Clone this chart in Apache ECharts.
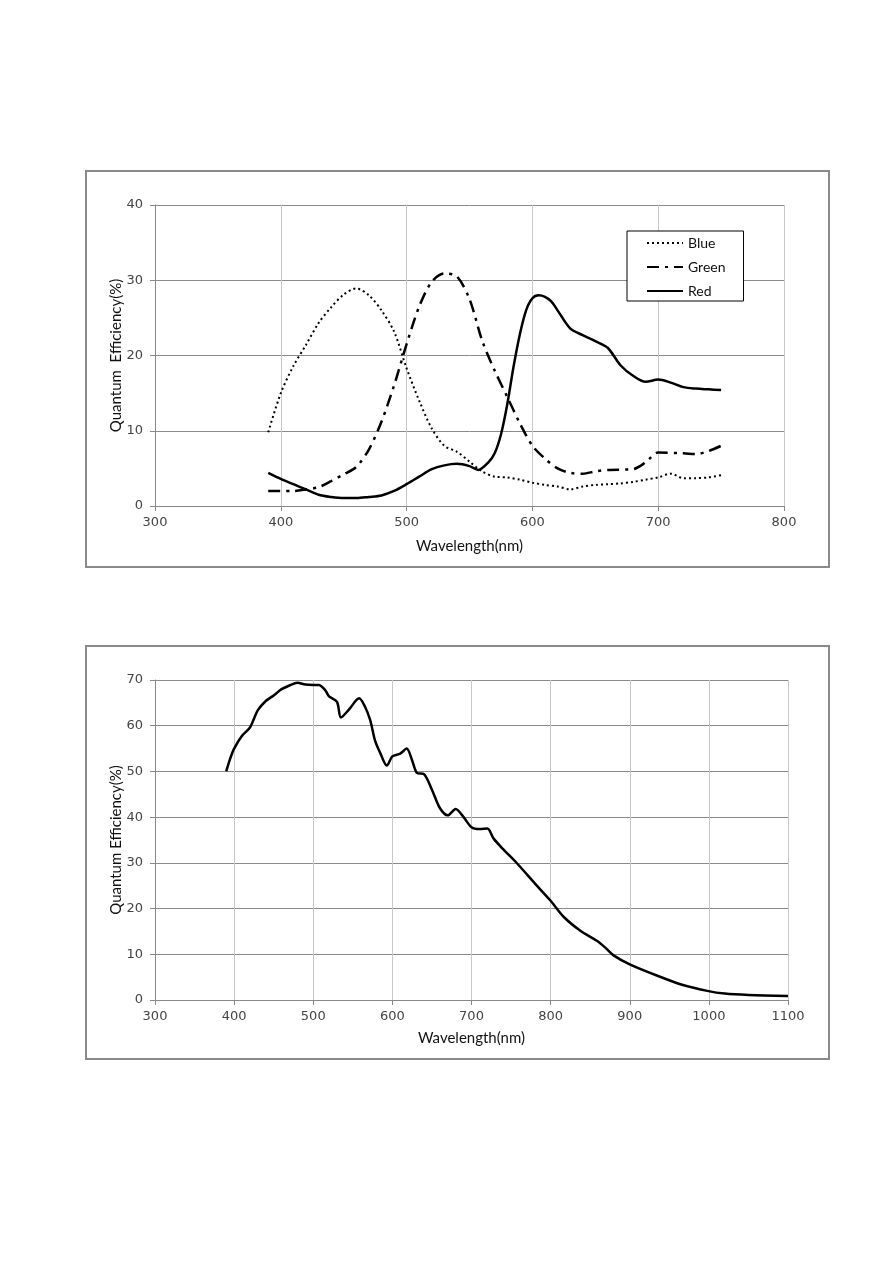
<!DOCTYPE html>
<html><head><meta charset="utf-8">
<script src="https://cdn.jsdelivr.net/npm/echarts@6/dist/echarts.min.js"></script>
<style>
html,body{margin:0;padding:0;background:#fff;width:893px;height:1263px;overflow:hidden}
.frame{position:absolute;border:2px solid #8a8a8a;box-sizing:border-box;background:#fff}
</style></head><body>
<div id="c1" class="frame" style="left:85px;top:170px;width:745px;height:398px"></div>
<div id="c2" class="frame" style="left:85px;top:645px;width:745px;height:415px"></div>
<script>
// ---- Chart 1 data ----
const blueWl = [390,400,410,420,430,440,450,460,470,480,490,500,510,520,530,540,550,560,570,580,590,600,610,620,630,640,650,660,670,680,690,700,710,720,730,740,750];
const blueQE = [9.8,15,18.6,21.4,24.3,26.4,28.1,28.9,28.0,26.0,23.2,18.3,14.0,10.3,8.0,7.2,5.9,4.6,3.9,3.8,3.5,3.1,2.8,2.6,2.2,2.6,2.8,2.9,3.0,3.2,3.5,3.8,4.3,3.7,3.7,3.8,4.1];
const greenWl = [390,410,420,430,440,450,460,470,480,490,500,510,520,530,540,550,560,570,580,590,600,610,620,630,640,650,660,680,690,700,720,730,740,750];
const greenQE = [2.0,2.0,2.2,2.5,3.3,4.2,5.2,7.5,11.2,16.0,21.5,26.5,29.8,30.9,30.5,27.5,22.0,18.0,14.5,11.0,8.0,6.3,5.0,4.4,4.3,4.6,4.8,4.9,5.8,7.1,7.0,6.9,7.3,8.0];
const redWl = [390,400,410,420,430,440,450,460,470,480,490,500,510,520,530,540,550,557,565,570,575,580,585,590,595,600,605,610,615,620,630,640,650,660,670,680,690,700,710,720,730,740,750];
const redQE = [4.4,3.6,2.9,2.2,1.5,1.2,1.05,1.05,1.2,1.4,2.0,2.9,3.9,4.9,5.4,5.6,5.3,4.8,5.8,7.0,9.5,13.5,18.5,22.8,26.0,27.6,28.0,27.8,27.2,26.0,23.6,22.7,21.9,21.0,18.7,17.3,16.5,16.8,16.4,15.8,15.6,15.5,15.4];
const seriesNames1 = ['Blue','Green','Red'];
const xTicks1 = [300,400,500,600,700,800];
const yTicks1 = [0,10,20,30,40];
// ---- Chart 2 data ----
const monoWl = [390,395,400,410,420,425,430,440,450,460,470,480,490,500,507,515,520,530,535,545,558,565,572,578,585,593,600,610,618,625,631,640,650,660,670,680,690,700,710,720,728,740,758,780,800,817,838,859,870,880,900,935,965,998,1020,1050,1100];
const monoQE = [50,52.8,55,57.8,59.6,61.5,63.4,65.4,66.6,68,68.8,69.4,69,68.9,68.9,67.8,66.4,65.2,61.8,63.5,66,64.3,61.2,56.8,53.9,51.3,53.3,53.9,55,52.4,49.7,49.4,46,42,40.4,41.8,40,37.8,37.4,37.5,35.3,33,29.8,25.5,21.7,18.1,15.1,12.9,11.3,9.7,7.8,5.3,3.4,2.0,1.4,1.1,0.9];
const xTicks2 = [300,400,500,600,700,800,900,1000,1100];
const yTicks2 = [0,10,20,30,40,50,60,70];

const zip = (a,b) => a.map((v,i)=>[v,b[i]]);
const labelStyle = {color:'#444', fontSize:13, fontFamily:'DejaVu Sans', fontWeight:'normal'};
const nameStyle = {color:'#111', fontSize:15, fontFamily:'Lato, Open Sans, sans-serif'};

function axes(xt, yt) {
  return {
    xAxis: {type:'value', min:xt[0], max:xt[xt.length-1], interval:xt[1]-xt[0],
      name:'Wavelength(nm)', nameLocation:'middle', nameGap:33, nameTextStyle:nameStyle,
      nameMoveOverlap:false,
      axisLine:{show:true, lineStyle:{color:'#888', width:1}},
      axisTick:{show:true, length:5, lineStyle:{color:'#888'}},
      axisLabel:{...labelStyle, margin:10, formatter: v => String(v)},
      splitLine:{show:true, lineStyle:{color:'#c8c8c8', width:1}}},
    yAxis: {type:'value', min:yt[0], max:yt[yt.length-1], interval:yt[1]-yt[0],
      name:'Quantum  Efficiency(%)', nameLocation:'middle', nameGap:31, nameTextStyle:nameStyle,
      nameMoveOverlap:false,
      axisLine:{show:true, lineStyle:{color:'#888', width:1}},
      axisTick:{show:true, length:5, lineStyle:{color:'#888'}},
      axisLabel:{...labelStyle, margin:12, formatter: v => String(v)},
      splitLine:{show:true, lineStyle:{color:'#8a8a8a', width:1}}}
  };
}

const c1 = echarts.init(document.getElementById('c1'));
const a1 = axes(xTicks1, yTicks1);
c1.setOption({
  animation:false, backgroundColor:'#fff',
  grid:{left:68, right:44, top:33, bottom:60},
  xAxis:a1.xAxis, yAxis:a1.yAxis,
  legend:{show:true, orient:'vertical', left:540, top:59, right:'auto', bottom:'auto',
    itemWidth:36, itemHeight:14, itemGap:10,
    padding:[5,18,3,19], borderColor:'#000', borderWidth:1, backgroundColor:'#fff',
    itemStyle:{opacity:0},
    textStyle:{color:'#111', fontSize:14, fontFamily:'Lato, Open Sans, sans-serif'},
    data:seriesNames1},
  series:[
    {name:seriesNames1[0], type:'line', data:zip(blueWl,blueQE), smooth:0.3, symbol:'none',
      lineStyle:{color:'#000', width:2, type:[2,3]}, itemStyle:{color:'#000'}},
    {name:seriesNames1[1], type:'line', data:zip(greenWl,greenQE), smooth:0.3, symbol:'none',
      lineStyle:{color:'#000', width:2.5, type:[12,6,3,6]}, itemStyle:{color:'#000'}},
    {name:seriesNames1[2], type:'line', data:zip(redWl,redQE), smooth:0.3, symbol:'none',
      lineStyle:{color:'#000', width:2.5, type:'solid'}, itemStyle:{color:'#000'}}
  ]
});

const c2 = echarts.init(document.getElementById('c2'));
const a2 = axes(xTicks2, yTicks2);
a2.yAxis.name = 'Quantum Efficiency(%)';
a2.xAxis.nameGap = 31;
c2.setOption({
  animation:false, backgroundColor:'#fff',
  grid:{left:68, right:40, top:33, bottom:58},
  xAxis:a2.xAxis, yAxis:a2.yAxis,
  series:[
    {name:'Mono', type:'line', data:zip(monoWl,monoQE), smooth:0.3, symbol:'none',
      lineStyle:{color:'#000', width:2.5}}
  ]
});
</script>
</body></html>
